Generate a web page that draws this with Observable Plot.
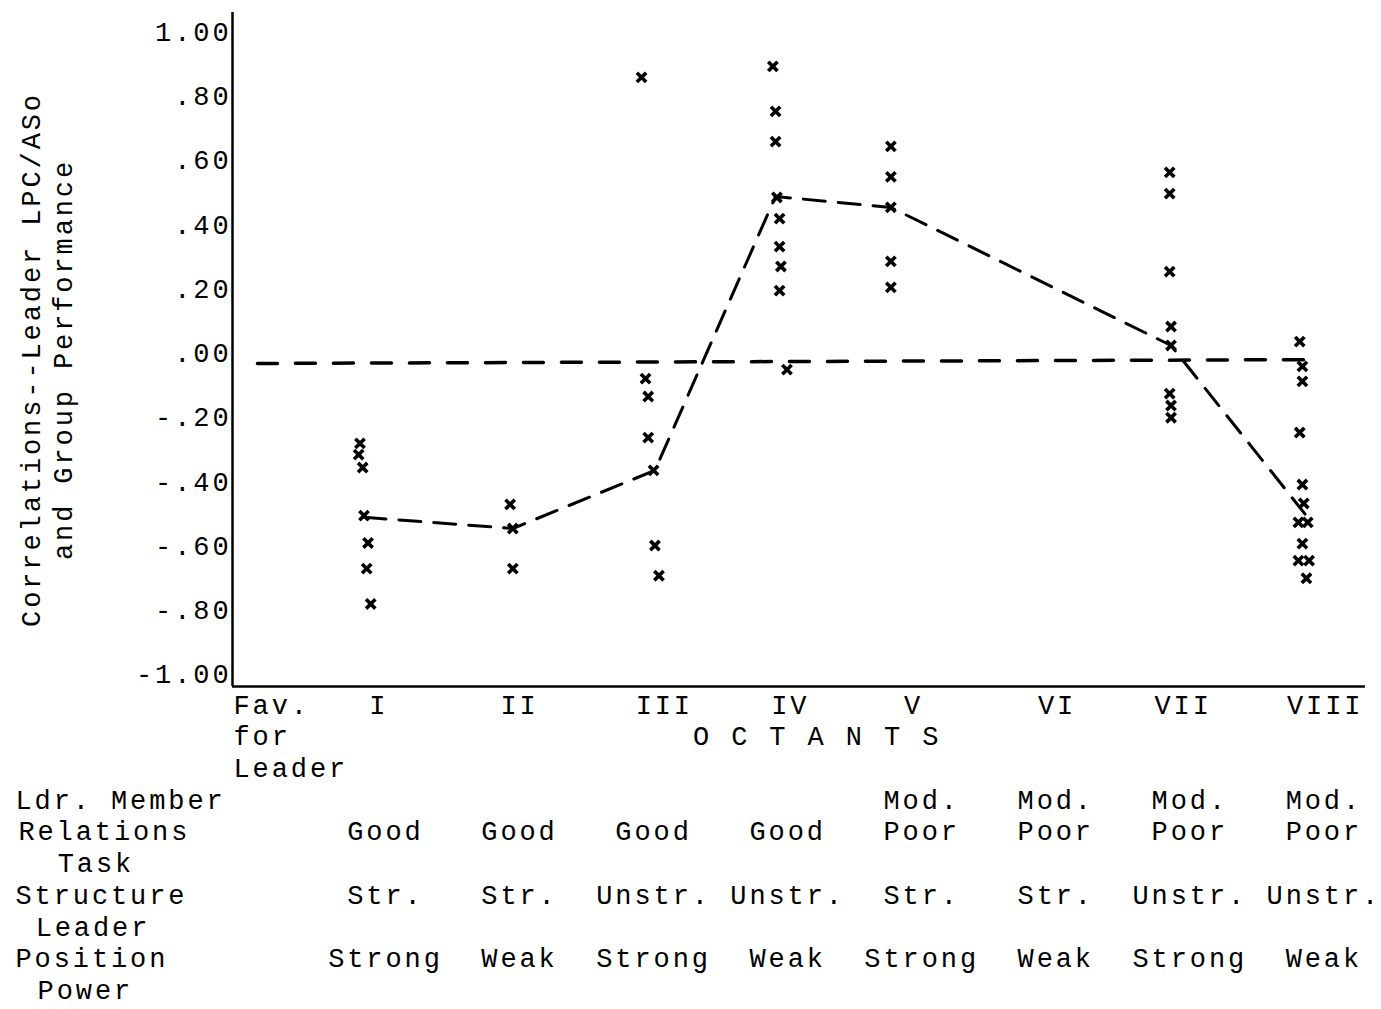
<!DOCTYPE html>
<html><head><meta charset="utf-8">
<script src="https://cdn.jsdelivr.net/npm/d3@7"></script>
<script src="https://cdn.jsdelivr.net/npm/@observablehq/plot@0.6"></script>
<style>
body{margin:0;background:#fff;}
svg text{letter-spacing:2.9px;}
</style></head><body><div id="chart"></div>
<script>
// Y axis ticks
const yTicks = [-1, -0.8, -0.6, -0.4, -0.2, 0, 0.2, 0.4, 0.6, 0.8, 1];
const yTickLabels = ["-1.00", "-.80", "-.60", "-.40", "-.20", ".00", ".20", ".40", ".60", ".80", "1.00"];

// Octant labels (typed positions, in octant units)
const octantLabels = ["I", "II", "III", "IV", "V", "VI", "VII", "VIII"];
const octantLabelPos = [0.95, 2.0, 3.08, 4.02, 4.94, 6.01, 6.95, 8.01];

// Correlations per octant (value) and their plotted octant position
const corrI = [-0.28, -0.315, -0.355, -0.505, -0.59, -0.67, -0.78];
const posI = [0.81, 0.80, 0.83, 0.84, 0.87, 0.86, 0.89];
const corrII = [-0.47, -0.545, -0.67];
const posII = [1.93, 1.95, 1.95];
const corrIII = [0.86, -0.078, -0.134, -0.262, -0.364, -0.598, -0.692];
const posIII = [2.91, 2.94, 2.96, 2.96, 3.0, 3.01, 3.04];
const corrIV = [0.894, 0.754, 0.66, 0.486, 0.42, 0.333, 0.271, 0.196, -0.05];
const posIV = [3.89, 3.91, 3.91, 3.92, 3.94, 3.94, 3.95, 3.94, 3.995];
const corrV = [0.645, 0.55, 0.455, 0.287, 0.206];
const posV = [4.77, 4.77, 4.77, 4.77, 4.77];
const corrVII = [0.564, 0.498, 0.255, 0.084, 0.025, -0.125, -0.162, -0.2];
const posVII = [6.85, 6.85, 6.85, 6.86, 6.86, 6.85, 6.86, 6.86];
const corrVIII = [0.037, -0.04, -0.087, -0.246, -0.408, -0.467, -0.526, -0.526, -0.592, -0.645, -0.645, -0.70];
const posVIII = [7.82, 7.84, 7.84, 7.82, 7.84, 7.85, 7.81, 7.88, 7.84, 7.81, 7.89, 7.87];

// Median trend line
const trendX = [0.84, 1.95, 3.01, 3.91, 4.77, 6.86, 7.86];
const trendY = [-0.51, -0.545, -0.364, 0.489, 0.455, 0.025, -0.50];

// Reference (zero) dashed line
const refX = [0.045, 7.92];
const refY = [-0.031, -0.019];

// Table below
const relationsTop = ["", "", "", "", "Mod.", "Mod.", "Mod.", "Mod."];
const relationsBottom = ["Good", "Good", "Good", "Good", "Poor", "Poor", "Poor", "Poor"];
const structure = ["Str.", "Str.", "Unstr.", "Unstr.", "Str.", "Str.", "Unstr.", "Unstr."];
const power = ["Strong", "Weak", "Strong", "Weak", "Strong", "Weak", "Strong", "Weak"];
const rowLabels = [
  {row: 0, indent: -1, t: "Fav."},
  {row: 1, indent: -1, t: "for"},
  {row: 2, indent: -1, t: "Leader"},
  {row: 3, indent: 0, t: "Ldr. Member"},
  {row: 4, indent: 0.15, t: "Relations"},
  {row: 5, indent: 2.2, t: "Task"},
  {row: 6, indent: 0, t: "Structure"},
  {row: 7, indent: 1.05, t: "Leader"},
  {row: 8, indent: 0, t: "Position"},
  {row: 9, indent: 1.15, t: "Power"}
];

const points = [];
[[corrI, posI], [corrII, posII], [corrIII, posIII], [corrIV, posIV], [corrV, posV], [corrVII, posVII], [corrVIII, posVIII]]
  .forEach(([c, p]) => c.forEach((v, i) => points.push({x: p[i], y: v})));
const trend = trendX.map((x, i) => ({x, y: trendY[i]}));
const ref = refX.map((x, i) => ({x, y: refY[i]}));

const W = 1381, H = 1009, mL = 232, mT = 12, mB = 323;
const frameBottom = H - mB;
const rowY = i => 704.5 + 31.7 * i;
const cols = d3.range(1, 9);
const FS = 27;

function rowMark(texts, row, xs) {
  const data = texts.map((t, i) => ({t, x: xs[i]})).filter(d => d.t);
  return Plot.text(data, {x: "x", text: "t", frameAnchor: "bottom", dy: rowY(row) - frameBottom,
    lineAnchor: "middle", textAnchor: "middle", fontSize: FS});
}

const labelMarks = rowLabels.map(d => Plot.text([d], {
  text: "t", frameAnchor: "bottom-left", textAnchor: "start", lineAnchor: "middle",
  dx: d.indent < 0 ? 1 : (15 - mL + d.indent * 19.2), dy: rowY(d.row) - frameBottom, fontSize: FS
}));

const chart = Plot.plot({
  width: W, height: H,
  marginLeft: mL, marginRight: 0, marginTop: mT, marginBottom: mB,
  style: {fontFamily: "'Liberation Mono', 'DejaVu Sans Mono', monospace", fontSize: FS + "px", background: "#fff", color: "#000"},
  x: {domain: [-0.141, 8.43], axis: null},
  y: {domain: [-1.037, 1.062], axis: null},
  marks: [
    Plot.axisY({ticks: yTicks, tickFormat: d => yTickLabels[yTicks.indexOf(d)], tickSize: 0, tickPadding: 1, label: null, fontSize: FS}),
    Plot.ruleX([-0.141], {stroke: "#000", strokeWidth: 2.5}),
    Plot.ruleY([-1.037], {x1: -0.141, x2: 8.31, stroke: "#000", strokeWidth: 2.5}),
    Plot.line(ref, {x: "x", y: "y", stroke: "#000", strokeWidth: 3.5, strokeDasharray: "20,18"}),
    Plot.line(trend, {x: "x", y: "y", stroke: "#000", strokeWidth: 3, strokeDasharray: "22,13"}),
    Plot.dot(points, {x: "x", y: "y", symbol: "times", r: 4.3, stroke: "#000", strokeWidth: 3.6}),
    Plot.text(["Correlations--Leader LPC/ASo\nand Group Performance"], {
      text: d => d, frameAnchor: "left", rotate: -90, dx: 45 - mL, dy: 10,
      textAnchor: "middle", lineAnchor: "middle", lineHeight: 1.18, fontSize: FS
    }),
    rowMark(octantLabels, 0, octantLabelPos),
    rowMark(["O C T A N T S"], 1, [4.22]),
    rowMark(relationsTop, 3, cols),
    rowMark(relationsBottom, 4, cols),
    rowMark(structure, 6, cols),
    rowMark(power, 8, cols),
    ...labelMarks
  ]
});
document.getElementById("chart").appendChild(chart);
</script>
</body></html>
